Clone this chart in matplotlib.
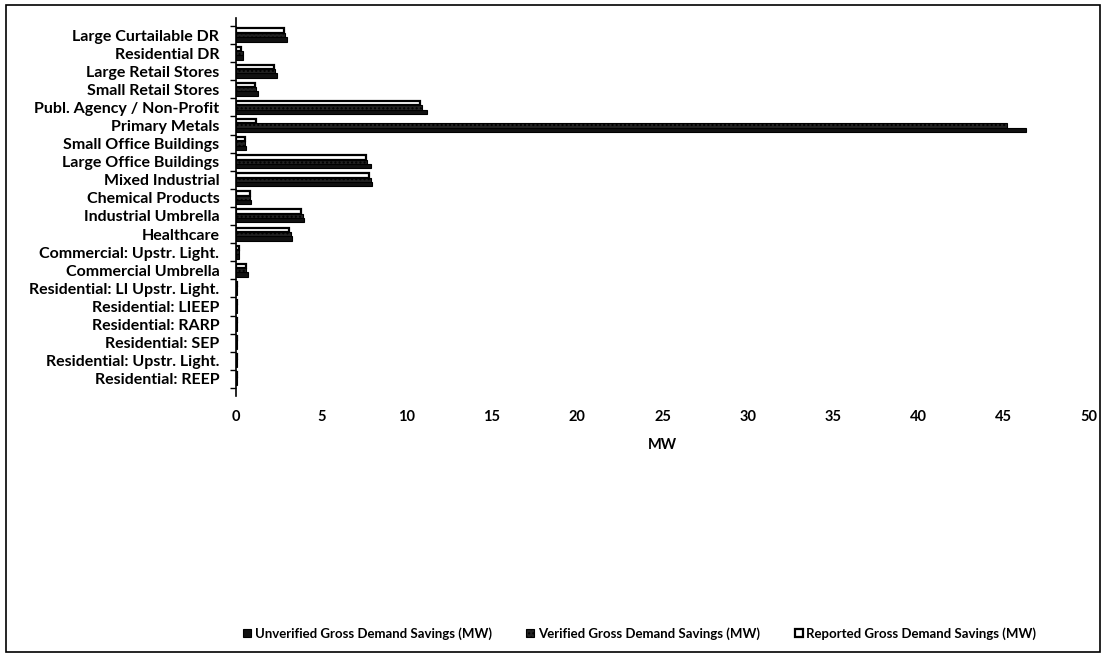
import numpy as np
import matplotlib
matplotlib.use('Agg')
from matplotlib import pyplot as plt
from matplotlib.patches import Rectangle

categories = ['Large Curtailable DR', 'Residential DR', 'Large Retail Stores',
              'Small Retail Stores', 'Publ. Agency / Non-Profit', 'Primary Metals',
              'Small Office Buildings', 'Large Office Buildings', 'Mixed Industrial',
              'Chemical Products', 'Industrial Umbrella', 'Healthcare',
              'Commercial: Upstr. Light.', 'Commercial Umbrella',
              'Residential: LI Upstr. Light.', 'Residential: LIEEP',
              'Residential: RARP', 'Residential: SEP',
              'Residential: Upstr. Light.', 'Residential: REEP']
unverified = [3.0, 0.4, 2.4, 1.3, 11.2, 46.3, 0.6, 7.9, 8.0, 0.9, 4.0, 3.3,
              0.2, 0.7, 0.05, 0.05, 0.05, 0.05, 0.05, 0.05]
verified = [2.9, 0.4, 2.3, 1.2, 10.9, 45.2, 0.5, 7.7, 7.9, 0.8, 3.9, 3.2,
            0.15, 0.6, 0.05, 0.05, 0.05, 0.05, 0.05, 0.05]
reported = [2.8, 0.3, 2.2, 1.1, 10.8, 1.2, 0.5, 7.6, 7.8, 0.8, 3.8, 3.1,
            0.15, 0.6, 0.05, 0.05, 0.05, 0.05, 0.05, 0.05]
labels = ['Unverified Gross Demand Savings (MW)', 'Verified Gross Demand Savings (MW)',
          'Reported Gross Demand Savings (MW)']

plt.rcParams['font.family'] = ['Lato', 'DejaVu Sans']

fig = plt.figure(figsize=(11.07, 6.59), dpi=100)
ax = fig.add_axes([0.2132, 0.399, 0.7705, 0.5737])

y = np.arange(len(categories))
h = 0.24
ax.barh(y + h, unverified, height=h, color='#111111', edgecolor='black', linewidth=0.8,
        label=labels[0])
ax.barh(y, verified, height=h, color='#222222', edgecolor='black', linewidth=0.8,
        hatch='....', label=labels[1])
ax.barh(y - h, reported, height=h, color='white', edgecolor='black', linewidth=1.6,
        label=labels[2])

ax.set_xlim(0, 50)
ax.set_ylim(19.95, -0.94)
ax.set_xticks(range(0, 51, 5))
ax.set_yticks(y)
ax.set_yticklabels(categories, fontsize=11.5, fontweight='bold')
ax.set_yticks(np.arange(-0.5, len(categories), 1), minor=True)
ax.tick_params(axis='y', which='major', length=0, pad=12)
ax.tick_params(axis='y', which='minor', length=4, width=1, direction='out')
ax.tick_params(axis='x', length=0, labelsize=10.5, pad=10)
for t in ax.get_xticklabels():
    t.set_fontweight('bold')
for s in ['top', 'right', 'bottom']:
    ax.spines[s].set_visible(False)
ax.spines['left'].set_linewidth(1.2)
ax.set_xlabel('MW', fontsize=10.5, fontweight='bold', labelpad=10)

leg = fig.legend(loc='center', bbox_to_anchor=(0.578, 0.039), ncol=3, frameon=False,
                 fontsize=9.5, handlelength=0.6, handleheight=0.6, columnspacing=2.6,
                 handletextpad=0.3)
for t in leg.get_texts():
    t.set_fontweight('bold')

fig.patches.append(Rectangle((0.005, 0.01), 0.989, 0.982, transform=fig.transFigure,
                             fill=False, edgecolor='black', linewidth=1.2))

fig.savefig('out.png', dpi=100)
